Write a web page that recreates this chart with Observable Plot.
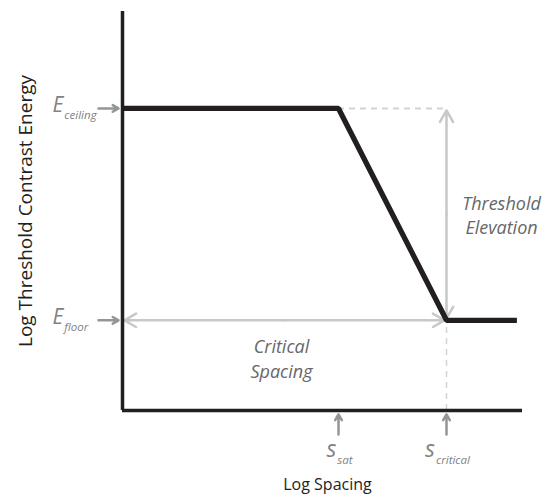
<!DOCTYPE html>
<html><head><meta charset="utf-8">
<script src="https://cdn.jsdelivr.net/npm/d3@7"></script>
<script src="https://cdn.jsdelivr.net/npm/@observablehq/plot@0.6"></script>
<style>body{margin:0;background:#fff} svg{display:block}</style>
</head><body><div id="chart"></div>
<script>
// Data (abstract log units: spacing 0–100, energy 0–100)
const spacing = [0, 54, 81, 98.6];
const energy = [75.7, 75.7, 22.6, 22.6];
const energyLevels = [75.7, 22.6];          // ceiling, floor
const energyLabels = ["E_ceiling", "E_floor"];
const spacingMarks = [54, 81];              // s_sat, s_critical
const spacingLabels = ["s_sat", "s_critical"];
const xTitle = "Log Spacing";
const yTitle = "Log Threshold Contrast Energy";
const elevationLabel = "Threshold\nElevation";
const criticalLabel = "Critical\nSpacing";

const [ceiling, floor] = energyLevels;
const [sSat, sCrit] = spacingMarks;
const mid = (ceiling + floor) / 2;
const pointer = 5; // length of small pointer arrows, in scale units
const BLACK = "#231f20", LIGHT = "#c7c8ca", DASH = "#d1d3d4", MED = "#939598", TXT = "#666769";

const curve = spacing.map((s, i) => ({s, e: energy[i]}));
const elevArrows = [{x: sCrit, y1: mid, y2: ceiling}, {x: sCrit, y1: mid, y2: floor}];
const critArrows = [{y: floor, x1: sCrit / 2, x2: 0}, {y: floor, x1: sCrit / 2, x2: sCrit}];
const leftPointers = energyLevels.map((e, i) => ({y: e, label: energyLabels[i]}));
const upPointers = spacingMarks.map((s, i) => ({x: s, label: spacingLabels[i]}));

const chart = Plot.plot({
  width: 553, height: 497,
  marginLeft: 122, marginRight: 31, marginTop: 11, marginBottom: 87,
  x: {domain: [0, 100], axis: null},
  y: {domain: [0, 100], axis: null},
  style: {fontFamily: "'Open Sans', sans-serif", background: "white", overflow: "visible"},
  marks: [
    // dashed guides
    Plot.ruleY([ceiling], {x1: () => sSat, x2: () => sCrit, stroke: DASH, strokeWidth: 2, strokeDasharray: "6,5"}),
    Plot.ruleX([sCrit], {y1: () => 0, y2: () => floor, stroke: DASH, strokeWidth: 1.5, strokeDasharray: "6,5"}),
    // double arrows
    Plot.arrow(elevArrows, {x1: "x", x2: "x", y1: "y1", y2: "y2", stroke: LIGHT, strokeWidth: 2.5, headLength: 8, insetEnd: 2}),
    Plot.arrow(critArrows, {x1: "x1", x2: "x2", y1: "y", y2: "y", stroke: LIGHT, strokeWidth: 2.5, headLength: 8, insetEnd: 2}),
    // axes
    Plot.ruleX([0], {stroke: BLACK, strokeWidth: 3.5}),
    Plot.ruleY([0], {stroke: BLACK, strokeWidth: 3.5}),
    // main function
    Plot.line(curve, {x: "s", y: "e", stroke: BLACK, strokeWidth: 5.3, strokeLinejoin: "miter", strokeLinecap: "butt"}),
    // pointer arrows
    Plot.arrow(leftPointers, {x1: () => -pointer - 1, x2: () => -1, y1: "y", y2: "y", stroke: MED, strokeWidth: 2.5, headLength: 8}),
    Plot.arrow(upPointers, {x1: "x", x2: "x", y1: () => -pointer - 1, y2: () => -1, stroke: MED, strokeWidth: 2.5, headLength: 8}),
    // pointer labels
    Plot.text(leftPointers, {y: "y", text: "label", frameAnchor: "left", dx: -70, dy: 4, textAnchor: "start", lineAnchor: "bottom", fontSize: 21, fontStyle: "italic", fill: "#808285"}),
    Plot.text(upPointers, {x: "x", text: "label", frameAnchor: "bottom", dx: 1, dy: 46, textAnchor: "middle", lineAnchor: "bottom", fontSize: 23, fontStyle: "italic", fill: "#808285"}),
    // annotations
    Plot.text([elevationLabel], {x: () => sCrit, y: () => mid, text: d => d, dx: 55, lineAnchor: "middle", lineHeight: 1.36, fontSize: 18, fontStyle: "italic", fill: TXT}),
    Plot.text([criticalLabel], {x: () => sCrit / 2, y: () => floor, text: d => d, dx: -3, dy: 15, lineAnchor: "top", lineHeight: 1.39, fontSize: 18, fontStyle: "italic", fill: TXT}),
    // axis titles
    Plot.text([yTitle], {frameAnchor: "left", text: d => d, rotate: -90, dx: -97, textAnchor: "middle", lineAnchor: "middle", fontSize: 19, fill: BLACK}),
    Plot.text([xTitle], {frameAnchor: "bottom", text: d => d, dx: 5, dy: 79, textAnchor: "middle", lineAnchor: "bottom", fontSize: 16, fill: BLACK})
  ]
});

// turn "X_sub" into a subscripted label
chart.querySelectorAll("text").forEach(t => {
  if (t.children.length === 0 && t.textContent.includes("_")) {
    const [main, sub] = t.textContent.split("_");
    t.textContent = main;
    const ts = document.createElementNS("http://www.w3.org/2000/svg", "tspan");
    ts.setAttribute("font-size", "11.5");
    ts.setAttribute("dy", "7");
    ts.setAttribute("dx", "1");
    ts.textContent = sub;
    t.appendChild(ts);
  }
});
document.getElementById("chart").appendChild(chart);
</script>
</body></html>
